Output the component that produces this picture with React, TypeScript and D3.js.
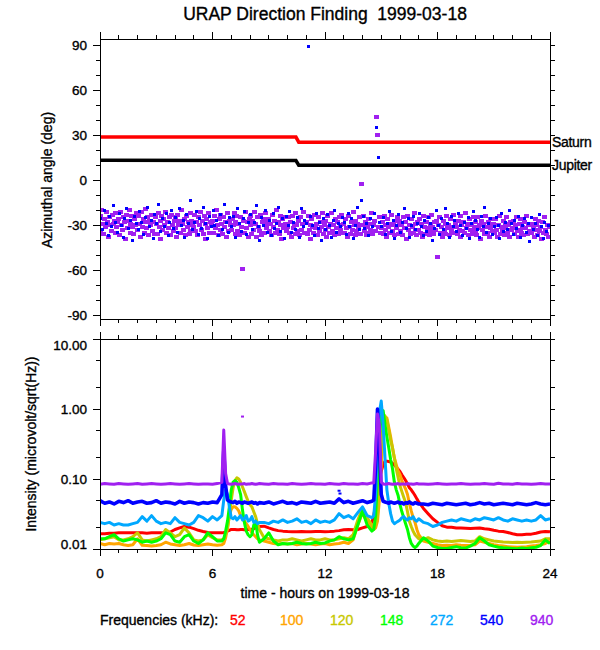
import { useEffect, useRef } from "react";
import * as d3 from "d3";

// ---- axis ticks ----
const hourTicks = [0, 6, 12, 18, 24];
const angleTicks = [-90, -60, -30, 0, 30, 60, 90];
const intensityTicks = [0.01, 0.1, 1, 10];
const intensityMinorTicks = [0.02, 0.05, 0.2, 0.5, 2, 5];

// ---- frequencies ----
const freqs = [52, 100, 120, 148, 272, 540, 940];
const freqColors = ["#ff0000", "#ffa500", "#c8c800", "#00ff00", "#00a8ff", "#0000ff", "#a020f0"];

// ---- planet directions (deg) ----
const planetNames = ["Saturn", "Jupiter"];
const planetColors = ["#ff0000", "#000000"];
const planetTimes = [0, 10.45, 10.6, 24];
const saturnAngles = [28.7, 28.6, 25.2, 25.1];
const jupiterAngles = [13.1, 13.0, 9.9, 9.8];

// ---- direction finding, azimuth (deg) ----
// 940 kHz, one value every 3 min
const az940 = [
  -24,-33,-20,-29,-36,-26,-31,-21,-28,-38,-25,-30,-34,-23,-29,-27,-35,-22,-31,-28,
  -26,-37,-21,-30,-33,-25,-28,-39,-23,-32,-27,-20,-35,-29,-24,-31,-36,-26,-30,-22,
  -33,-24,-29,-38,-21,-31,-26,-35,-28,-19,-32,-25,-37,-27,-30,-23,-34,-28,-36,-25,
  -29,-36,-22,-31,-27,-39,-24,-33,-26,-30,-21,-35,-28,-32,-25,-37,-23,-30,-34,-27,
  -25,-32,-38,-23,-30,-27,-35,-20,-29,-33,-26,-37,-24,-31,-28,-36,-22,-34,-27,-30,
  -31,-23,-34,-28,-37,-25,-30,-21,-33,-27,-36,-24,-29,-39,-26,-32,-22,-35,-28,-30,
  -27,-35,-24,-32,-20,-30,-37,-26,-33,-23,-29,-36,-25,-31,-28,-38,-22,-34,-27,-30,
  -33,-26,-30,-22,-36,-28,-24,-34,-29,-37,-25,-31,-59,-27,-35,-21,-32,-28,-38,-26,
  -30,-24,-36,-27,-33,-21,-29,-38,-25,-31,-34,-23,-37,-28,-26,-35,-30,-22,-32,-28,
  -26,-34,-29,-37,-23,-31,-27,-35,-20,-33,-28,-36,-24,-30,-39,-26,-32,-25,-29,-34,
  -31,-25,-35,-28,-38,-24,-32,-29,-36,-22,-30,-34,-27,-37,-25,-33,-29,-21,-35,-28,
  -28,-36,-24,-33,-30,-39,-26,-31,-35,-23,-32,-29,-37,-25,-34,-28,-31,-22,-36,-30,
  -33,-27,-38,-24,-31,-35,-29,-22,-34,-30,-37,-26,-32,-28,-36,-25,-33,-30,-23,-35,
  -29,-35,-26,-32,-38,-24,-31,-36,-28,-33,-21,-30,-37,-27,-34,-29,-32,-25,-36,-3,
  -30,-24,-34,-28,-37,-31,-26,-35,-29,-33,-22,-36,-30,-27,-34,42,30,-31,-25,-35,
  -32,-28,-36,-24,-33,-30,-38,-26,-31,-35,-29,-23,-34,-30,-37,-27,-32,-25,-36,-29,
  -27,-34,-30,-37,-25,-32,-28,-39,-24,-33,-30,-36,-26,-31,-35,-22,-33,-29,-37,-28,
  -33,-26,-35,-29,-38,-24,-31,-36,-28,-32,-25,-37,-30,-34,-23,-31,-36,-28,-33,-27,
  -51,-30,-25,-35,-31,-38,-27,-33,-29,-36,-24,-32,-30,-37,-26,-34,-31,-23,-35,-29,
  -31,-36,-27,-33,-24,-38,-30,-34,-28,-35,-22,-32,-29,-37,-26,-33,-30,-36,-25,-31,
  -34,-28,-37,-25,-32,-30,-39,-27,-33,-29,-36,-24,-31,-35,-28,-38,-26,-32,-30,-34,
  -29,-35,-26,-33,-38,-30,-24,-36,-31,-34,-27,-37,-29,-32,-25,-35,-30,-38,-28,-33,
  -32,-27,-36,-30,-25,-34,-38,-29,-33,-26,-35,-31,-37,-28,-32,-24,-36,-30,-34,-29,
  -35,-29,-32,-38,-26,-33,-30,-37,-27,-34,-31,-39,-28,-35,-25,-33,-36,-30,-38,-31,
];
// 540 kHz, one value every 6 min
const az540 = [
  -26,-33,-20,-29,-37,-24,-31,-17,-28,-35,
  -22,-30,-38,-26,-19,-32,-27,-40,-24,-29,
  -33,-21,-28,-36,-25,-18,-31,-27,-39,-23,
  -29,-16,-34,-26,-31,-22,-37,-28,-20,-32,
  -25,-35,-19,-30,-27,-38,-23,-29,-14,-33,
  -28,-21,-36,-26,-32,-18,-29,-39,-24,-31,
  -20,-30,-27,-37,-23,-33,-16,-28,-35,-25,
  -31,-24,-38,-19,-29,-34,-26,-21,-36,-28,
  -23,-33,-28,-17,-31,-40,-25,-30,-20,-35,
  -27,-37,-22,-32,-29,-18,-34,-26,-39,-24,
  -30,-21,-35,-28,-33,-25,-38,-19,-31,-27,
  -29,89,-24,-30,-37,-22,-32,-28,-40,-26,
  -33,-23,-30,-38,-27,-20,-35,-29,-31,-25,
  -28,-36,-22,-31,-26,-39,-30,-18,-33,-14,
  -24,-32,-29,-37,-26,-31,-22,35,15,-28,
  -31,-25,-36,-29,-21,-34,-27,-39,-30,-23,
  -35,-28,-19,-32,-26,-38,-30,-24,-33,-29,
  -22,-31,-37,-27,-34,-25,-29,-40,-32,-20,
  -30,-36,-26,-33,-19,-29,-38,-24,-31,-27,
  -34,-22,-30,-37,-28,-32,-25,-39,-29,-21,
  -27,-33,-38,-24,-31,-18,-35,-29,-26,-36,
  -31,-25,-30,-39,-22,-34,-28,-33,-20,-29,
  -36,-27,-32,-24,-38,-30,-26,-35,-29,-41,
  -25,-33,-29,-37,-23,-31,-39,-28,-34,-30,
];

// ---- intensity (microvolt/sqrt(Hz)) ----
const intensityTimes = [
  0, 0.25, 0.5, 0.75, 1, 1.25, 1.5, 1.75, 2, 2.25, 2.5, 2.75, 3, 3.25, 3.5, 3.75, 4, 4.25, 4.5, 4.75, 5, 5.25, 5.5, 5.75, 6, 6.25,
  6.5, 6.6, 6.7, 6.8, 6.9, 7, 7.1, 7.2, 7.3, 7.4, 7.5, 7.6, 7.7, 7.8, 7.9, 8, 8.1, 8.2, 8.3, 8.4, 8.5,
  8.75, 9, 9.25, 9.5, 9.75, 10, 10.25, 10.5, 10.75, 11, 11.25, 11.5, 11.75, 12, 12.25, 12.5, 12.75, 13, 13.25, 13.5, 13.75, 14, 14.25, 14.5,
  14.6, 14.7, 14.8, 14.9, 15, 15.1, 15.2, 15.3, 15.4, 15.5, 15.6, 15.7, 15.8, 15.9, 16, 16.1, 16.2, 16.3, 16.4, 16.5, 16.6, 16.7, 16.8, 16.9, 17,
  17.25, 17.5, 17.75, 18, 18.25, 18.5, 18.75, 19, 19.25, 19.5, 19.75, 20, 20.25, 20.5, 20.75, 21, 21.25, 21.5, 21.75, 22, 22.25, 22.5, 22.75, 23, 23.25, 23.5, 23.75, 24,
];
const int52 = [
  0.0165,0.0165,0.0168,0.0168,0.017,0.017,0.017,0.017,0.017,0.017,0.0168,0.017,0.017,0.017,0.0172,0.0175,0.019,0.02,0.021,0.0205,0.0195,0.0185,0.0178,0.0172,0.017,0.017,
  0.017,0.0172,0.0175,0.018,0.0185,0.019,0.019,0.019,0.0188,0.0188,0.019,0.019,0.0188,0.0188,0.019,0.019,0.0192,0.0195,0.02,0.0205,0.021,
  0.0212,0.02,0.019,0.0183,0.018,0.0178,0.0177,0.0177,0.0178,0.0177,0.0177,0.0178,0.0178,0.0177,0.0178,0.018,0.0183,0.0188,0.019,0.0188,0.019,0.02,0.021,0.024,
  0.03,0.043,0.06,0.1,0.13,0.16,0.18,0.18,0.178,0.175,0.168,0.158,0.148,0.138,0.128,0.115,0.105,0.095,0.085,0.075,0.07,0.064,0.058,0.052,0.047,
  0.038,0.032,0.027,0.024,0.0215,0.0205,0.0205,0.02,0.02,0.0198,0.0196,0.0198,0.02,0.0195,0.0192,0.0185,0.018,0.0178,0.0172,0.0165,0.016,0.016,0.0162,0.0163,0.0168,0.0175,0.0178,0.0176,
];
const int100 = [
  0.012,0.0115,0.012,0.0118,0.012,0.0115,0.0112,0.0115,0.014,0.0113,0.0112,0.011,0.0112,0.0115,0.0125,0.0118,0.0115,0.0112,0.0115,0.012,0.0114,0.0112,0.0115,0.0118,0.0115,0.0113,
  0.0115,0.012,0.0145,0.02,0.03,0.037,0.04,0.04,0.038,0.035,0.03,0.027,0.025,0.023,0.021,0.019,0.017,0.016,0.015,0.014,0.0135,
  0.013,0.0125,0.012,0.0118,0.012,0.0118,0.012,0.0115,0.0118,0.012,0.0118,0.0115,0.0118,0.012,0.0115,0.0118,0.012,0.0125,0.012,0.0135,0.022,0.033,0.024,0.02,
  0.019,0.02,0.025,0.05,0.15,0.4,0.7,0.75,0.55,0.4,0.28,0.2,0.16,0.13,0.115,0.095,0.082,0.072,0.06,0.045,0.035,0.028,0.024,0.019,0.016,
  0.013,0.0125,0.012,0.0115,0.0112,0.0113,0.0112,0.0115,0.0113,0.0112,0.0113,0.0115,0.013,0.0125,0.012,0.0115,0.0112,0.011,0.0108,0.0107,0.0106,0.0107,0.0108,0.011,0.0112,0.0115,0.012,0.013,
];
const int120 = [
  0.0135,0.014,0.0145,0.015,0.0135,0.0135,0.014,0.015,0.017,0.0135,0.013,0.0135,0.014,0.015,0.019,0.017,0.015,0.016,0.02,0.017,0.0135,0.013,0.0135,0.016,0.0145,0.0135,
  0.0135,0.014,0.016,0.02,0.03,0.05,0.075,0.095,0.104,0.1,0.09,0.077,0.066,0.056,0.048,0.043,0.04,0.034,0.029,0.023,0.019,
  0.0145,0.014,0.0135,0.013,0.0135,0.0135,0.014,0.0135,0.013,0.0135,0.014,0.0135,0.0135,0.014,0.0135,0.0135,0.014,0.0145,0.014,0.016,0.026,0.038,0.028,0.022,
  0.021,0.022,0.03,0.08,0.3,0.6,0.8,0.7,0.5,0.36,0.28,0.2,0.14,0.105,0.08,0.066,0.055,0.046,0.034,0.025,0.021,0.018,0.016,0.015,0.014,
  0.0135,0.0145,0.0135,0.013,0.0128,0.013,0.0128,0.013,0.0132,0.013,0.0128,0.013,0.015,0.014,0.0135,0.013,0.0128,0.0126,0.0125,0.0124,0.0125,0.0124,0.0125,0.0126,0.0128,0.013,0.014,0.014,
];
const int148 = [
  0.014,0.014,0.015,0.016,0.014,0.013,0.0135,0.014,0.0135,0.0125,0.013,0.0125,0.013,0.014,0.017,0.016,0.013,0.0125,0.015,0.016,0.013,0.012,0.0135,0.017,0.015,0.013,
  0.013,0.014,0.018,0.025,0.04,0.07,0.09,0.095,0.09,0.075,0.06,0.036,0.024,0.018,0.016,0.015,0.016,0.022,0.025,0.016,0.0125,
  0.014,0.017,0.013,0.0115,0.012,0.0118,0.012,0.0125,0.012,0.0118,0.012,0.0125,0.012,0.0122,0.013,0.0135,0.015,0.014,0.0135,0.014,0.022,0.035,0.022,0.018,
  0.019,0.03,0.1,0.4,0.8,0.95,0.6,0.4,0.28,0.19,0.14,0.09,0.07,0.058,0.043,0.034,0.028,0.023,0.019,0.0145,0.012,0.011,0.0105,0.011,0.012,
  0.0145,0.013,0.011,0.0105,0.0102,0.0102,0.0105,0.0108,0.0104,0.0103,0.011,0.012,0.0145,0.013,0.0115,0.011,0.0106,0.0104,0.0103,0.0102,0.0101,0.0103,0.0102,0.0104,0.0106,0.0112,0.0135,0.012,
];
const int272 = [
  0.024,0.023,0.024,0.022,0.023,0.022,0.022,0.023,0.024,0.029,0.025,0.03,0.025,0.023,0.024,0.023,0.028,0.024,0.023,0.022,0.024,0.03,0.028,0.025,0.029,0.026,
  0.03,0.05,0.07,0.06,0.04,0.028,0.027,0.029,0.026,0.028,0.03,0.026,0.027,0.03,0.025,0.026,0.029,0.024,0.025,0.023,0.024,
  0.024,0.023,0.025,0.024,0.026,0.024,0.025,0.027,0.024,0.025,0.023,0.026,0.024,0.025,0.024,0.026,0.032,0.028,0.03,0.027,0.033,0.04,0.03,0.028,
  0.03,0.06,0.3,0.9,1.3,0.6,0.2,0.07,0.045,0.032,0.025,0.023,0.024,0.025,0.026,0.028,0.029,0.027,0.026,0.028,0.027,0.029,0.026,0.025,0.027,
  0.024,0.023,0.021,0.022,0.024,0.025,0.026,0.025,0.027,0.026,0.025,0.027,0.026,0.028,0.027,0.026,0.028,0.026,0.025,0.027,0.026,0.025,0.026,0.025,0.026,0.03,0.026,0.027,
];
const int540 = [
  0.049,0.045,0.047,0.044,0.048,0.046,0.049,0.045,0.047,0.048,0.045,0.046,0.049,0.045,0.047,0.046,0.044,0.048,0.045,0.047,0.046,0.044,0.046,0.045,0.047,0.046,
  0.06,0.25,0.08,0.05,0.048,0.047,0.046,0.048,0.045,0.047,0.046,0.045,0.047,0.046,0.045,0.046,0.047,0.045,0.046,0.044,0.046,
  0.045,0.047,0.044,0.046,0.048,0.045,0.046,0.044,0.047,0.046,0.045,0.048,0.045,0.046,0.047,0.045,0.052,0.046,0.048,0.045,0.047,0.049,0.046,0.048,
  0.05,0.15,1.0,0.3,0.06,0.048,0.047,0.046,0.045,0.047,0.046,0.045,0.046,0.047,0.045,0.046,0.044,0.046,0.045,0.047,0.045,0.044,0.046,0.045,0.044,
  0.044,0.043,0.045,0.044,0.043,0.045,0.044,0.043,0.044,0.045,0.043,0.044,0.046,0.044,0.045,0.043,0.044,0.045,0.044,0.043,0.045,0.044,0.043,0.044,0.046,0.044,0.043,0.044,
];
const int940 = [
  0.084,0.086,0.085,0.084,0.086,0.085,0.084,0.085,0.086,0.084,0.085,0.086,0.085,0.084,0.085,0.086,0.085,0.084,0.085,0.086,0.085,0.084,0.085,0.085,0.084,0.086,
  0.09,0.5,0.12,0.086,0.085,0.084,0.085,0.086,0.085,0.084,0.085,0.085,0.086,0.084,0.085,0.085,0.086,0.085,0.084,0.085,0.086,
  0.085,0.084,0.086,0.085,0.085,0.084,0.086,0.085,0.084,0.085,0.086,0.085,0.085,0.084,0.086,0.085,0.084,0.086,0.085,0.085,0.084,0.086,0.085,0.088,
  0.088,0.25,0.85,0.6,0.09,0.085,0.084,0.085,0.086,0.085,0.084,0.085,0.085,0.086,0.084,0.085,0.085,0.084,0.086,0.085,0.085,0.084,0.085,0.086,0.085,
  0.085,0.084,0.085,0.086,0.085,0.084,0.085,0.085,0.086,0.085,0.084,0.085,0.085,0.086,0.085,0.084,0.087,0.085,0.085,0.084,0.086,0.085,0.085,0.084,0.085,0.086,0.085,0.085,
];
const intensitySeries = [int52, int100, int120, int148, int272, int540, int940];
const intensityWidths = [3, 3, 3, 3, 3, 3.6, 3];

// isolated points
const strayTimes = [7.6, 12.75, 12.8];
const strayValues = [0.78, 0.068, 0.062];
const strayFreqIdx = [6, 5, 5];

export default function App() {
  const svgRef = useRef<SVGSVGElement>(null);

  useEffect(() => {
    if (!svgRef.current) return;
    const svg = d3.select(svgRef.current);
    svg.selectAll("*").remove();

    const font = "'Liberation Sans', Arial, Helvetica, sans-serif";
    const left = 100;
    const right = 550;
    const top1 = 39;
    const bot1 = 319;
    const top2 = 339;
    const bot2 = 549;
    const major = 7;
    const minor = 4;

    const x = d3.scaleLinear().domain([0, 24]).range([left, right]);
    const yAng = d3.scaleLinear().domain([-90, 90]).range([315, 45]);
    const yInt = d3.scaleLog().domain([0.01, 10]).range([bot2, top2]);

    svg.append("rect").attr("width", 600).attr("height", 650).attr("fill", "#fff");

    // heavier text, like the original raster font
    const addText = (sel: d3.Selection<any, any, any, any>, color = "#000") =>
      sel
        .append("text")
        .attr("font-family", font)
        .attr("fill", color)
        .attr("stroke", color)
        .attr("stroke-width", 0.35);

    // title
    addText(svg)
      .attr("x", (left + right) / 2)
      .attr("y", 20)
      .attr("text-anchor", "middle")
      .attr("font-size", "17.5px")
      .style("white-space", "pre")
      .text("URAP Direction Finding  1999-03-18");

    const defs = svg.append("defs");
    defs.append("clipPath").attr("id", "clip1")
      .append("rect").attr("x", left).attr("y", top1).attr("width", right - left).attr("height", bot1 - top1);
    defs.append("clipPath").attr("id", "clip2")
      .append("rect").attr("x", left).attr("y", top2).attr("width", right - left).attr("height", bot2 - top2);

    // ---------- top panel ----------
    const g1 = svg.append("g").attr("clip-path", "url(#clip1)");

    const planetLine = d3
      .line<number>()
      .x((_, i) => x(planetTimes[i]))
      .y((d) => yAng(d));
    [saturnAngles, jupiterAngles].forEach((arr, k) => {
      g1.append("path")
        .attr("d", planetLine(arr) as string)
        .attr("fill", "none")
        .attr("stroke", planetColors[k])
        .attr("stroke-width", 3.5);
    });

    const dots = g1.append("g").attr("shape-rendering", "crispEdges");
    dots.selectAll("rect.p940")
      .data(az940)
      .join("rect")
      .attr("x", (_, i) => Math.round(x(i * 0.05) - 2.5))
      .attr("y", (d) => Math.round(yAng(d) - 2))
      .attr("width", 5)
      .attr("height", 4)
      .attr("fill", freqColors[6]);

    dots.selectAll("rect.p540")
      .data(az540)
      .join("rect")
      .attr("x", (_, i) => Math.round(x(i * 0.1 + 0.03) - 1.5))
      .attr("y", (d) => Math.round(yAng(d) - 1.5))
      .attr("width", 3)
      .attr("height", 3)
      .attr("fill", freqColors[5]);

    [saturnAngles, jupiterAngles].forEach((arr, k) => {
      addText(svg)
        .attr("x", right + 2)
        .attr("y", yAng(arr[arr.length - 1]) + 5)
        .attr("font-size", "14px")
        .attr("letter-spacing", "-0.3px")
        .text(planetNames[k]);
    });

    // ---------- bottom panel ----------
    const g2 = svg.append("g").attr("clip-path", "url(#clip2)");
    const intLine = d3
      .line<number>()
      .x((_, i) => x(intensityTimes[i]))
      .y((d) => yInt(d));
    intensitySeries.forEach((s, k) => {
      g2.append("path")
        .attr("d", intLine(s) as string)
        .attr("fill", "none")
        .attr("stroke", freqColors[k])
        .attr("stroke-width", intensityWidths[k])
        .attr("stroke-linejoin", "round");
    });
    g2.selectAll("rect.stray")
      .data(strayValues)
      .join("rect")
      .attr("x", (_, i) => x(strayTimes[i]) - 1.5)
      .attr("y", (d) => yInt(d) - 1)
      .attr("width", 3)
      .attr("height", 2)
      .attr("fill", (_, i) => freqColors[strayFreqIdx[i]]);

    // ---------- frames and ticks ----------
    const axes = svg.append("g").attr("stroke", "#000").attr("stroke-width", 1).attr("shape-rendering", "crispEdges");
    const hours = d3.range(0, 25);
    [
      [top1, bot1],
      [top2, bot2],
    ].forEach(([t, b]) => {
      axes.append("rect")
        .attr("x", left).attr("y", t).attr("width", right - left).attr("height", b - t)
        .attr("fill", "none");
      hours.forEach((h) => {
        const len = hourTicks.includes(h) ? major : minor;
        axes.append("line").attr("x1", x(h)).attr("x2", x(h)).attr("y1", t).attr("y2", t - len);
        axes.append("line").attr("x1", x(h)).attr("x2", x(h)).attr("y1", b).attr("y2", b + len);
      });
    });

    d3.range(-90, 91, 10).forEach((a) => {
      const len = angleTicks.includes(a) ? major : minor;
      axes.append("line").attr("x1", left).attr("x2", left - len).attr("y1", yAng(a)).attr("y2", yAng(a));
      axes.append("line").attr("x1", right).attr("x2", right + 5).attr("y1", yAng(a)).attr("y2", yAng(a));
    });
    intensityTicks.concat(intensityMinorTicks).forEach((v) => {
      const len = intensityTicks.includes(v) ? major : minor;
      axes.append("line").attr("x1", left).attr("x2", left - len).attr("y1", yInt(v)).attr("y2", yInt(v));
      axes.append("line").attr("x1", right).attr("x2", right + 5).attr("y1", yInt(v)).attr("y2", yInt(v));
    });

    // tick labels
    const labels = svg.append("g");
    angleTicks.forEach((a) => {
      addText(labels)
        .attr("font-size", "13.5px")
        .attr("x", left - 13)
        .attr("y", yAng(a) + 5)
        .attr("text-anchor", "end")
        .text(String(a));
    });
    const fmt = d3.format(".2f");
    intensityTicks.forEach((v) => {
      const yy = Math.max(top2 + 11, Math.min(bot2, yInt(v) + 5));
      addText(labels)
        .attr("font-size", "13.5px")
        .attr("x", left - 13)
        .attr("y", yy)
        .attr("text-anchor", "end")
        .text(fmt(v));
    });
    hourTicks.forEach((h) => {
      addText(labels)
        .attr("font-size", "13.5px")
        .attr("x", x(h))
        .attr("y", 578)
        .attr("text-anchor", "middle")
        .text(String(h));
    });

    // axis titles
    addText(svg)
      .attr("transform", `translate(52,180) rotate(-90)`)
      .attr("text-anchor", "middle")
      .attr("font-size", "14px")
      .text("Azimuthal angle (deg)");
    addText(svg)
      .attr("transform", `translate(36,444) rotate(-90)`)
      .attr("text-anchor", "middle")
      .attr("font-size", "14px")
      .text("Intensity (microvolt/sqrt(Hz))");
    addText(svg)
      .attr("x", (left + right) / 2)
      .attr("y", 598)
      .attr("text-anchor", "middle")
      .attr("font-size", "14px")
      .text("time - hours on 1999-03-18");

    // legend
    addText(svg)
      .attr("x", left)
      .attr("y", 625)
      .attr("font-size", "14px")
      .text("Frequencies (kHz):");
    freqs.forEach((f, i) => {
      addText(svg, freqColors[i])
        .attr("x", 230 + i * 50)
        .attr("y", 625)
        .attr("font-size", "14px")
        .text(String(f));
    });
  }, []);

  return (
    <svg
      ref={svgRef}
      width="600"
      height="650"
      style={{ position: "absolute", left: 0, top: 0 }}
    ></svg>
  );
}
